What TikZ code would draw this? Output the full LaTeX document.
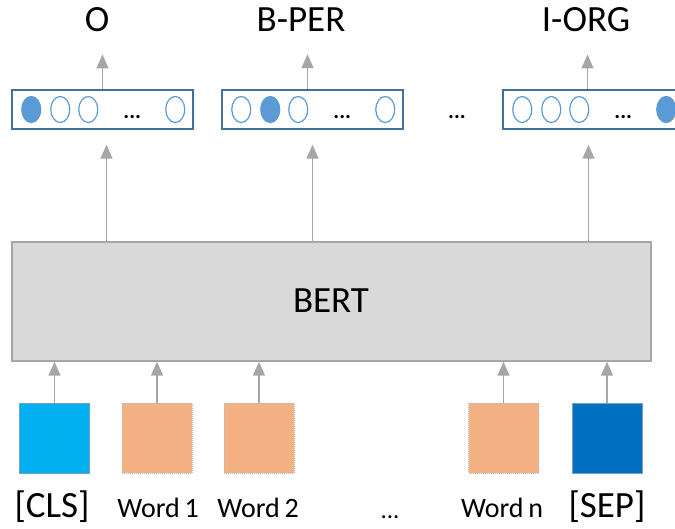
\documentclass[tikz,border=0pt]{standalone}
\usepackage{fontspec}
\setmainfont{Carlito}
\usetikzlibrary{arrows.meta,shapes.geometric,calc}
\definecolor{vecline}{HTML}{41719C}
\definecolor{unitblue}{HTML}{5B9BD5}
\definecolor{clsblue}{HTML}{00B0F0}
\definecolor{sepblue}{HTML}{0070C0}
\definecolor{wordorange}{HTML}{F4B183}
\definecolor{bertgray}{HTML}{D9D9D9}
\definecolor{bertedge}{HTML}{A6A6A6}
\definecolor{arrgray}{HTML}{A6A6A6}
\tikzset{
  bigtext/.style={font=\fontsize{37}{40}\selectfont, inner sep=0pt, anchor=base},
  wordtext/.style={font=\fontsize{28}{32}\selectfont, inner sep=0pt, anchor=base},
  vecbox/.style={draw=vecline, line width=1.5pt, minimum width=181pt, minimum height=39pt, inner sep=0pt},
  emptyunit/.style={ellipse, draw=unitblue, line width=1.2pt, minimum width=19pt, minimum height=26pt, inner sep=0pt},
  fullunit/.style={emptyunit, fill=unitblue},
  vdots/.style={font=\fontsize{22}{24}\selectfont\bfseries, inner sep=0pt, anchor=base},
  tokbox/.style={minimum size=70pt, inner sep=0pt, line width=1pt},
  wordbox/.style={tokbox, fill=wordorange, draw=gray!55, densely dotted},
  arr/.style={draw=arrgray, line width=1.5pt, -{Triangle[width=12pt,length=14pt]}, arrgray},
}
\begin{document}
\begin{tikzpicture}[x=1pt,y=-1pt]
\useasboundingbox (0,0) rectangle (675,529);
\clip (0,0) rectangle (675,529);

% output tags
\node[bigtext] (tO) at (97,32) {O};
\node[bigtext] (tB) at (301,32) {B-PER};
\node[bigtext] (tI) at (586,32) {I-ORG};

% one-hot output vectors
\node[vecbox] (v1) at (102.5,109.5) {};
\node[vecbox] (v2) at (312.5,109.5) {};
\node[vecbox] (v3) at (593.5,109.5) {};

\foreach \v/\a/\b/\c/\d in {v1/full/empty/empty/empty, v2/empty/full/empty/empty, v3/empty/empty/empty/full}{
  \node[\a unit] (\v-u1) at ($(\v.west)+(20,0)$) {};
  \node[\b unit] (\v-u2) at ($(\v.west)+(49,0)$) {};
  \node[\c unit] (\v-u3) at ($(\v.west)+(77,0)$) {};
  \node[vdots] (\v-dots) at ($(\v.west)+(121,9)$) {...};
  \node[\d unit] (\v-u4) at ($(\v.west)+(164,0)$) {};
}
\node[vdots] (midots) at (457,119) {...};

% encoder
\node[draw=bertedge, fill=bertgray, line width=1.5pt, minimum width=639pt, minimum height=119pt, inner sep=0pt] (bert) at (331.5,301.5) {};
\node[bigtext] (berttxt) at (331,313) {BERT};

% input tokens
\node[tokbox, fill=clsblue, draw=vecline!70] (cls) at (54.5,438) {};
\node[wordbox] (w1) at (157,438) {};
\node[wordbox] (w2) at (259,438) {};
\node[wordbox] (wn) at (503.5,438) {};
\node[tokbox, fill=sepblue, draw=vecline!70] (sep) at (607,438) {};

\node[bigtext] (lcls) at (52,517) {[CLS]};
\node[wordtext] (lw1) at (158,517) {Word\,1};
\node[wordtext] (lw2) at (258,517) {Word\,2};
\node[wordtext, font=\fontsize{25}{28}\selectfont] (ldots) at (390,518) {...};
\node[wordtext] (lwn) at (502,517) {Word\,n};
\node[bigtext] (lsep) at (607,517) {[SEP]};

% tokens into the encoder
\foreach \t in {cls,w1,w2,wn,sep}
  \draw[arr] (\t.north) -- (\t.north |- bert.south);

% encoder into the output vectors
\draw[arr, shorten >=15pt] ([xshift=4pt]v1.south |- bert.north) -- ([xshift=4pt]v1.south);
\draw[arr, shorten >=15pt] (v2.south |- bert.north) -- (v2.south);
\draw[arr, shorten >=15pt] ([xshift=-5pt]v3.south |- bert.north) -- ([xshift=-5pt]v3.south);

% output vectors to the tags
\draw[arr, shorten >=22pt] (v1.north) -- (v1.north |- tO.south);
\draw[arr, shorten >=22pt] ([xshift=-5pt]v2.north) -- ([xshift=-5pt]v2.north |- tB.south);
\draw[arr, shorten >=22pt] ([xshift=-6pt]v3.north) -- ([xshift=-6pt]v3.north |- tI.south);
\end{tikzpicture}
\end{document}
